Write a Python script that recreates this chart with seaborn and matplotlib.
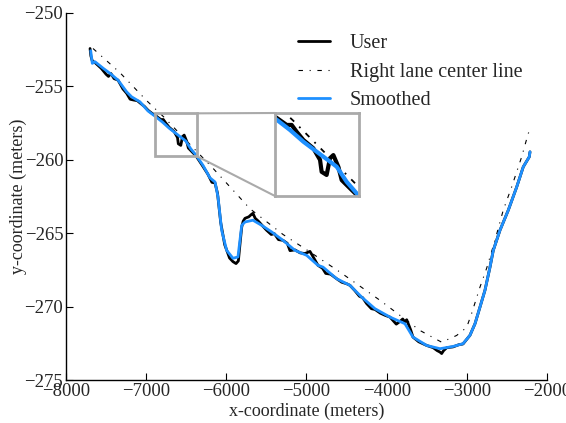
import numpy as np
import pandas as pd
import matplotlib
matplotlib.use("Agg")
import matplotlib.pyplot as plt
import seaborn as sns
from matplotlib.patches import Rectangle, ConnectionPatch

# Right lane center line
center_x = [-7663, -7326, -6993, -6778, -6391, -6166, -5705, -5293, -4957, -4582,
            -4083, -3585, -3314, -3127, -3002, -2940, -2836, -2753, -2649, -2546,
            -2441, -2316, -2234, -2212]
center_y = [-252.45, -254.10, -256.00, -257.12, -259.33, -260.60, -263.35, -265.10,
            -266.29, -267.66, -269.58, -271.63, -272.43, -271.97, -271.42, -270.47,
            -268.68, -267.40, -265.50, -263.45, -261.87, -259.82, -258.23, -258.00]

# Smoothed trajectory
smooth_x = [-7692, -7672, -7638, -7535, -7451, -7351, -7243, -7181, -7077, -6977,
            -6890, -6796, -6713, -6630, -6547, -6505, -6443, -6380, -6291, -6204,
            -6141, -6104, -6058, -5996, -5917, -5855, -5808, -5767, -5668, -5559,
            -5434, -5293, -5144, -4998, -4857, -4794, -4624, -4458, -4312, -4146,
            -3959, -3772, -3672, -3501, -3335, -3173, -3048, -2961, -2898, -2836,
            -2774, -2711, -2670, -2587, -2483, -2378, -2296, -2221, -2212]
smooth_y = [-252.60, -253.46, -253.35, -253.80, -254.14, -254.60, -255.40, -255.74,
            -256.08, -256.70, -257.05, -257.46, -257.87, -258.22, -258.57, -258.75,
            -259.28, -259.69, -260.40, -261.25, -261.53, -262.55, -264.82, -266.18,
            -266.72, -266.63, -264.48, -264.25, -264.13, -264.48, -264.93, -265.50,
            -266.18, -266.52, -267.20, -267.32, -268.11, -268.56, -269.36, -270.15,
            -270.72, -271.17, -272.08, -272.65, -272.87, -272.72, -272.53, -271.96,
            -271.17, -270.04, -268.90, -267.32, -266.18, -264.82, -263.45, -261.87,
            -260.50, -259.82, -259.48]

# Raw user trajectory
user_x = [-7700, -7690, -7672, -7640, -7560, -7500, -7470, -7440, -7400, -7351,
          -7290, -7243, -7200, -7160, -7110, -7077, -7020, -6977, -6930, -6890,
          -6817, -6786, -6755, -6713, -6651, -6609, -6599, -6568, -6547, -6526,
          -6495, -6474, -6422, -6380, -6300, -6230, -6180, -6141, -6110, -6070,
          -6020, -5960, -5917, -5879, -5850, -5825, -5808, -5790, -5767, -5720,
          -5690, -5668, -5640, -5600, -5559, -5500, -5440, -5400, -5350, -5293,
          -5240, -5206, -5144, -5080, -5020, -4957, -4930, -4857, -4800, -4760,
          -4700, -4624, -4560, -4500, -4458, -4400, -4340, -4300, -4250, -4190,
          -4146, -4080, -4020, -3959, -3880, -3830, -3800, -3772, -3750, -3700,
          -3672, -3600, -3501, -3420, -3370, -3335, -3314, -3290, -3250, -3173,
          -3100, -3048, -2961, -2898, -2836, -2774, -2711, -2670, -2587, -2483,
          -2378, -2296, -2221, -2212]
user_y = [-252.45, -252.95, -253.30, -253.40, -253.80, -254.20, -254.35, -254.15,
          -254.50, -254.60, -255.20, -255.50, -255.90, -255.95, -256.00, -256.15,
          -256.40, -256.65, -256.85, -256.99, -257.28, -257.28, -257.52, -257.81,
          -258.10, -258.51, -258.93, -259.04, -258.45, -258.34, -258.75, -259.22,
          -259.51, -259.74, -260.40, -261.00, -261.55, -261.60, -262.30, -264.30,
          -265.80, -266.70, -266.95, -267.08, -266.90, -265.50, -264.60, -264.20,
          -264.00, -263.90, -263.75, -263.66, -264.00, -264.20, -264.45, -264.80,
          -265.10, -265.05, -265.45, -265.50, -265.70, -266.20, -266.15, -266.35,
          -266.40, -266.25, -266.50, -267.20, -267.40, -267.75, -267.80, -268.11,
          -268.35, -268.45, -268.56, -268.90, -269.30, -269.40, -269.80, -270.15,
          -270.20, -270.45, -270.60, -270.72, -271.20, -271.00, -270.85, -271.05,
          -270.90, -271.60, -272.08, -272.40, -272.65, -272.80, -273.00, -273.10,
          -273.20, -273.00, -272.80, -272.75, -272.60, -272.55, -271.96, -271.17,
          -270.04, -268.90, -267.32, -266.18, -264.82, -263.45, -261.87, -260.50,
          -259.82, -259.48]

# zoomed window
zoom_xlim = [-6890, -6366]
zoom_ylim = [-259.78, -256.86]

sns.set_style("ticks")
plt.rcParams["font.family"] = ["Liberation Serif", "DejaVu Serif"]
plt.rcParams["xtick.direction"] = "in"
plt.rcParams["ytick.direction"] = "in"

user = pd.DataFrame({"x": user_x, "y": user_y})
center = pd.DataFrame({"x": center_x, "y": center_y})
smooth = pd.DataFrame({"x": smooth_x, "y": smooth_y})

dashdot = (0, (4, 6, 1, 6))

fig = plt.figure(figsize=(5.66, 4.23), dpi=100)
ax = fig.add_axes([66 / 566, 1 - 380 / 423, 481 / 566, 367.5 / 423])

sns.lineplot(data=user, x="x", y="y", sort=False, estimator=None, ax=ax,
             color="black", lw=2, label="User")
sns.lineplot(data=center, x="x", y="y", sort=False, estimator=None, ax=ax,
             color="black", lw=0.8, linestyle=dashdot, label="Right lane center line")
sns.lineplot(data=smooth, x="x", y="y", sort=False, estimator=None, ax=ax,
             color="#1e90ff", lw=2, label="Smoothed")

ax.set_xlim(-8000, -2000)
ax.set_ylim(-275, -250)
ax.set_xticks(np.arange(-8000, -1999, 1000))
ax.set_yticks(np.arange(-275, -249, 5))
ax.tick_params(labelsize=13.5, length=5, width=0.8, color="black", pad=2)
ax.set_xlabel("x-coordinate (meters)", fontsize=13, labelpad=2)
ax.set_ylabel("y-coordinate (meters)", fontsize=13, labelpad=-2)
sns.despine(ax=ax)
for s in ["left", "bottom"]:
    ax.spines[s].set_color("black")
    ax.spines[s].set_linewidth(1)

ax.legend(loc="upper left", bbox_to_anchor=(0.444, 0.99), frameon=False,
          fontsize=14.5, handlelength=1.6, handletextpad=1.0, labelspacing=0.45)

# inset
gray = "#aaaaaa"
axins = fig.add_axes([275 / 566, 1 - 196 / 423, 84 / 566, 83 / 423])
sns.lineplot(data=user, x="x", y="y", sort=False, estimator=None, ax=axins,
             color="black", lw=3, legend=False)
sns.lineplot(data=center, x="x", y="y", sort=False, estimator=None, ax=axins,
             color="black", lw=1.3, linestyle=(0, (3, 4, 1, 4)), legend=False)
sns.lineplot(data=smooth, x="x", y="y", sort=False, estimator=None, ax=axins,
             color="#1e90ff", lw=3, legend=False)
axins.set_xlim(zoom_xlim)
axins.set_ylim(zoom_ylim)
axins.set_xticks([])
axins.set_yticks([])
axins.set_xlabel("")
axins.set_ylabel("")
for s in axins.spines.values():
    s.set_color(gray)
    s.set_linewidth(2)
    s.set_visible(True)

ax.add_patch(Rectangle((zoom_xlim[0], zoom_ylim[0]), zoom_xlim[1] - zoom_xlim[0],
                       zoom_ylim[1] - zoom_ylim[0], fill=False, ec=gray, lw=2, zorder=5))
for xyA, xyB in [((0, 1), (zoom_xlim[1], zoom_ylim[1])), ((0, 0), (zoom_xlim[1], zoom_ylim[0]))]:
    con = ConnectionPatch(xyA=xyA, coordsA=axins.transAxes, xyB=xyB, coordsB=ax.transData,
                          color=gray, lw=1.5)
    fig.add_artist(con)

fig.savefig("out.png", dpi=100)
